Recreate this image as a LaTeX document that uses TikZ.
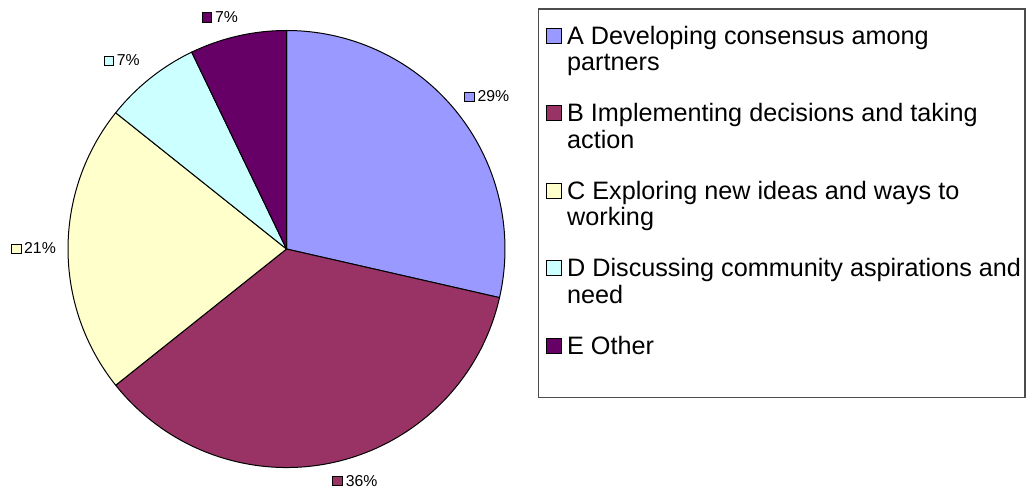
\documentclass[tikz,border=0pt]{standalone}
\usepackage{fontspec}
\setmainfont{Liberation Sans}
\definecolor{cA}{HTML}{9999FF}
\definecolor{cB}{HTML}{993366}
\definecolor{cC}{HTML}{FFFFCC}
\definecolor{cD}{HTML}{CCFFFF}
\definecolor{cE}{HTML}{660066}
\begin{document}
\begin{tikzpicture}[x=1pt,y=1pt,
  slice/.style={draw=black,line width=1pt,line join=round},
  lblsq/.style={draw=black,line width=0.8pt,minimum size=9.5pt,inner sep=0pt,outer sep=0pt},
  lbltxt/.style={inner sep=0pt,font=\fontsize{15.8}{18}\selectfont,anchor=base west},
  legsq/.style={draw=black,line width=0.8pt,minimum size=15pt,inner sep=0pt,outer sep=0pt},
  legtxt/.style={inner sep=0pt,anchor=north west,align=left,font=\fontsize{25.2}{26.5}\selectfont},
  legbox/.style={draw=black!70,line width=1.2pt}]
\useasboundingbox (0,0) rectangle (1034,-489);
\fill[white] (0,0) rectangle (1034,-489);
\coordinate (c) at (286.5,-249);
\def\R{218.5}
% pie slices
\filldraw[slice,fill=cA] (c) -- ++(90:\R) arc[start angle=90,end angle=-12.857,radius=\R] -- cycle;
\filldraw[slice,fill=cB] (c) -- ++(-12.857:\R) arc[start angle=-12.857,end angle=-141.429,radius=\R] -- cycle;
\filldraw[slice,fill=cC] (c) -- ++(-141.429:\R) arc[start angle=-141.429,end angle=-218.571,radius=\R] -- cycle;
\filldraw[slice,fill=cD] (c) -- ++(-218.571:\R) arc[start angle=-218.571,end angle=-244.286,radius=\R] -- cycle;
\filldraw[slice,fill=cE] (c) -- ++(-244.286:\R) arc[start angle=-244.286,end angle=-270,radius=\R] -- cycle;
% data labels
\node[lblsq,fill=cE] (sqE) at (207,-17.3) {};
\node[lbltxt] (lE) at (215,-22.3) {7\%};
\node[lblsq,fill=cD] (sqD) at (108.8,-61) {};
\node[lbltxt] (lD) at (116.7,-66) {7\%};
\node[lblsq,fill=cA] (sqA) at (469.2,-96.7) {};
\node[lbltxt] (lA) at (477.3,-101.7) {29\%};
\node[lblsq,fill=cC] (sqC) at (16.4,-249) {};
\node[lbltxt] (lC) at (24,-254) {21\%};
\node[lblsq,fill=cB] (sqB) at (337.3,-480.7) {};
\node[lbltxt] (lB) at (345.7,-486) {36\%};
% legend
\draw[legbox] (538.5,-9) rectangle (1025,-397.5);
\node[legsq,fill=cA] (gsA) at (553.5,-35.5) {};
\node[legtxt] (gtA) at (567,-25.45) {\strut A Developing consensus among\\\strut partners};
\node[legsq,fill=cB] (gsB) at (553.5,-113) {};
\node[legtxt] (gtB) at (567,-102.95) {\strut B Implementing decisions and taking\\\strut action};
\node[legsq,fill=cC] (gsC) at (553.5,-190.5) {};
\node[legtxt] (gtC) at (567,-180.45) {\strut C Exploring new ideas and ways to\\\strut working};
\node[legsq,fill=cD] (gsD) at (553.5,-268) {};
\node[legtxt] (gtD) at (567,-257.95) {\strut D Discussing community aspirations and\\\strut need};
\node[legsq,fill=cE] (gsE) at (553.5,-345.5) {};
\node[legtxt] (gtE) at (567,-335.45) {\strut E Other};
\end{tikzpicture}
\end{document}
